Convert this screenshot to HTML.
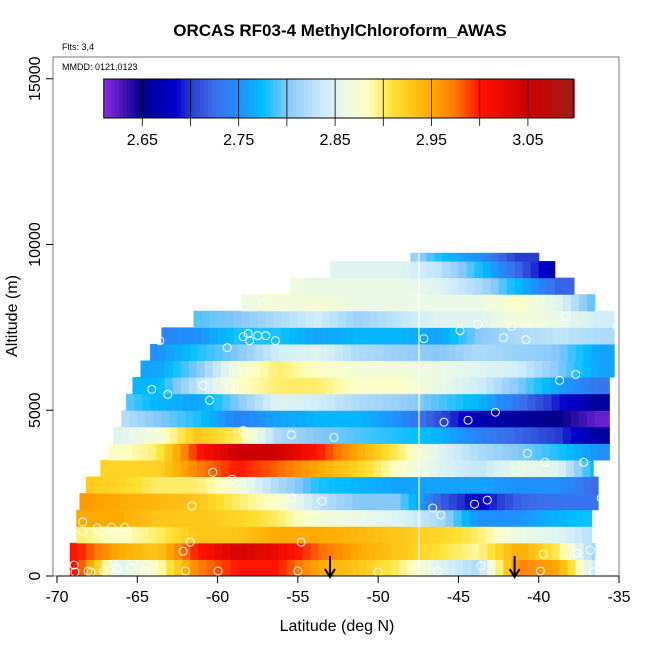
<!DOCTYPE html>
<html><head><meta charset="utf-8"><style>
body{margin:0;background:#fff;}
svg{display:block;font-family:"Liberation Sans",Arial,sans-serif;}
</style></head><body>
<svg id="c" width="650" height="650" viewBox="0 0 650 650">
<text x="340" y="36" text-anchor="middle" font-size="17" font-weight="bold">ORCAS RF03-4 MethylChloroform_AWAS</text>
<text x="62" y="50" font-size="9">Flts: 3,4</text>
<g id="cells"></g>
<line x1="419" y1="252" x2="419" y2="576" stroke="#fff" stroke-width="1.2"/>
<g id="pts"></g>
<g id="arrows"></g>
<rect x="53" y="57" width="566" height="519" fill="none" stroke="#777" stroke-width="1"/>
<text x="62" y="70" font-size="9">MMDD: 0121,0123</text>
<g id="cbar"></g>
<g id="axes"></g>
<text x="337" y="631" text-anchor="middle" font-size="16">Latitude (deg N)</text>
<text transform="translate(17,316) rotate(-90)" text-anchor="middle" font-size="16">Altitude (m)</text>
</svg>
<script>
const latCenters=[-68.75,-66.25,-63.75,-61.25,-58.75,-56.25,-53.75,-51.25,-48.75,-46.25,-43.75,-41.25,-38.75,-36.25];
const altRows=[0,500,1000,1500,2000,2500,3000,3500,4000,4500,5000,5500,6000,6500,7000,7500,8000,8500,9000,9500];
const rowLatMin=[-69.2,-69.2,-68.8,-68.8,-68.6,-68.2,-67.3,-66.8,-66.5,-66.0,-65.7,-65.3,-64.8,-64.2,-63.5,-61.5,-58.5,-55.5,-53.0,-48.0];
const rowLatMax=[-36.5,-36.5,-36.7,-36.7,-36.3,-36.3,-36.6,-35.6,-35.6,-35.6,-35.6,-35.6,-35.3,-35.3,-35.3,-35.3,-36.5,-37.8,-39.0,-40.0];
const values=[
[3.0,2.85,2.88,2.97,3.0,3.0,2.95,2.93,2.9,2.85,2.82,2.97,2.95,2.82],
[3.0,2.95,2.93,3.0,3.04,3.02,2.98,2.95,2.93,2.91,2.89,2.95,2.9,2.8],
[2.9,2.88,2.9,2.93,2.93,2.95,2.95,2.94,2.93,2.92,2.9,2.86,2.85,2.82],
[2.95,2.95,2.93,2.93,2.92,2.9,2.87,2.86,2.85,2.82,2.75,2.75,2.77,2.78],
[2.96,2.95,2.94,2.93,2.9,2.88,2.83,2.8,2.8,2.72,2.68,2.72,2.73,2.73],
[2.93,2.92,2.9,2.9,2.87,2.82,2.78,2.77,2.76,2.76,2.76,2.75,2.75,2.72],
[2.92,2.92,2.92,2.97,3.0,2.98,2.95,2.92,2.88,2.85,2.83,2.86,2.85,2.76],
[2.88,2.88,2.9,3.0,3.05,3.05,3.0,2.95,2.9,2.85,2.82,2.8,2.78,2.75],
[2.85,2.85,2.87,2.93,2.9,2.82,2.8,2.79,2.78,2.77,2.74,2.72,2.7,2.66],
[2.83,2.83,2.8,2.78,2.74,2.76,2.77,2.77,2.75,2.71,2.67,2.66,2.65,2.62],
[2.8,2.8,2.77,2.76,2.8,2.85,2.84,2.82,2.81,2.79,2.77,2.73,2.69,2.66],
[2.77,2.77,2.77,2.83,2.88,2.9,2.9,2.88,2.88,2.86,2.84,2.8,2.76,2.73],
[2.76,2.76,2.76,2.8,2.87,2.9,2.88,2.87,2.87,2.86,2.85,2.84,2.8,2.76],
[2.75,2.75,2.75,2.78,2.8,2.84,2.85,2.82,2.81,2.8,2.82,2.81,2.8,2.76],
[2.74,2.74,2.74,2.75,2.78,2.78,2.76,2.77,2.77,2.76,2.8,2.82,2.83,2.82],
[2.79,2.79,2.79,2.79,2.8,2.82,2.84,2.81,2.83,2.85,2.85,2.87,2.86,2.84],
[2.86,2.86,2.86,2.86,2.86,2.87,2.87,2.86,2.86,2.86,2.86,2.88,2.85,2.78],
[2.87,2.87,2.87,2.87,2.87,2.87,2.86,2.86,2.86,2.85,2.82,2.77,2.72,2.72],
[2.85,2.85,2.85,2.85,2.85,2.85,2.85,2.85,2.85,2.83,2.78,2.72,2.66,2.66],
[2.83,2.83,2.83,2.83,2.83,2.83,2.83,2.83,2.83,2.78,2.75,2.7,2.7,2.7]
];
const ptLat=[-68.94,-68.88,-68.07,-67.88,-67.07,-66.26,-66.26,-65.4,-64.5,-62.0,-62.15,-61.7,-59.97,-55.0,-54.8,-50.0,-46.3,-43.6,-39.7,-39.9,-36.8,-36.6,-68.4,-68.4,-67.5,-66.6,-65.8,-61.6,-55.4,-53.5,-60.3,-59.1,-55.4,-52.75,-60.5,-59.2,-58.4,-64.1,-63.1,-60.9,-59.4,-58.0,-58.4,-58.1,-57.5,-57.0,-56.4,-63.6,-57.2,-50.0,-47.15,-44.9,-43.8,-42.2,-41.7,-35.1,-40.8,-38.3,-38.7,-37.7,-35.25,-42.7,-44.4,-45.9,-40.7,-39.6,-37.2,-36.1,-43.2,-44.0,-46.6,-46.1,-37.6];
const ptAlt=[330,120,150,120,150,240,180,240,150,150,750,1020,150,150,1020,120,150,300,660,150,780,120,1350,1630,1450,1470,1470,2110,2350,2260,3130,2920,4260,4180,5300,5690,4390,5630,5480,5750,6890,7100,7220,7310,7250,7250,7100,7100,8250,9690,7160,7400,7590,7190,7530,7530,7130,7830,5900,6080,4940,4940,4700,4640,3700,3430,3430,2350,2290,2170,2050,1840,690];
const cbTicks=[2.65,2.75,2.85,2.95,3.05];
const cbLines=[2.65,2.70,2.75,2.80,2.85,2.90,2.95,3.00,3.05];
const xTicks=[-70,-65,-60,-55,-50,-45,-40,-35];
const yTicks=[0,5000,10000,15000];
const arrowLat=[-53,-41.5];

const X=l=>57+(l+70)*562/35;
const Y=a=>576-a*0.03315;
const stops=[[2.61,[138,43,226]],[2.65,[0,0,139]],[2.685,[0,0,205]],[2.70,[40,60,210]],[2.725,[60,110,235]],[2.75,[30,144,255]],[2.775,[0,191,255]],[2.80,[135,200,250]],[2.84,[210,238,250]],[2.86,[235,250,230]],[2.885,[255,255,190]],[2.91,[255,225,50]],[2.95,[255,170,0]],[2.975,[255,120,0]],[3.0,[255,20,0]],[3.05,[205,0,0]],[3.1,[160,30,30]]];
function col(v){
  if(v<=stops[0][0])return 'rgb('+stops[0][1]+')';
  for(let i=1;i<stops.length;i++){if(v<=stops[i][0]){const a=stops[i-1],b=stops[i],t=(v-a[0])/(b[0]-a[0]);return 'rgb('+a[1].map((c,k)=>Math.round(c+(b[1][k]-c)*t)).join(',')+')';}}
  return 'rgb('+stops[stops.length-1][1]+')';
}
function interp(row,l){
  if(l<=latCenters[0])return row[0];
  const n=latCenters.length;
  if(l>=latCenters[n-1])return row[n-1];
  for(let i=1;i<n;i++){if(l<=latCenters[i]){const t=(l-latCenters[i-1])/(latCenters[i]-latCenters[i-1]);return row[i-1]+(row[i]-row[i-1])*t;}}
}
const NS='http://www.w3.org/2000/svg';
function mk(t,at,p){const e=document.createElementNS(NS,t);for(const k in at)e.setAttribute(k,at[k]);p.appendChild(e);return e;}
const cells=document.getElementById('cells');
const rowTops=altRows.map((a,i)=>i===altRows.length-1?a+250:a+500);
const STEP=0.5;
altRows.forEach((a,r)=>{
  for(let l0=rowLatMin[r];l0<rowLatMax[r]-1e-6;l0+=STEP){
    const l1=Math.min(l0+STEP,rowLatMax[r]);
    const e=mk('rect',{x:X(l0),y:Y(rowTops[r]),width:X(l1)-X(l0)+0.5,height:Y(a)-Y(rowTops[r])+0.5,fill:col(interp(values[r],(l0+l1)/2))},cells);
    
    
  }
});
const pts=document.getElementById('pts');
ptLat.forEach((l,i)=>{
  const e=mk('circle',{cx:X(l),cy:Y(ptAlt[i]),r:4,fill:'none',stroke:'#fff','stroke-width':1},pts);
  
  
});
const ar=document.getElementById('arrows');
arrowLat.forEach(l=>{
  const x=X(l);
  const g=mk('g',{},ar);
  
  
  mk('line',{x1:x,y1:556,x2:x,y2:576,stroke:'#000','stroke-width':2},g);
  mk('polyline',{points:(x-5)+',569 '+x+',577 '+(x+5)+',569',fill:'none',stroke:'#000','stroke-width':2},g);
});
const cb=document.getElementById('cbar');
const CX=v=>142.3+(v-2.65)*964;
const cb0=2.61,cb1=3.097;
for(let v=cb0;v<cb1;v+=0.004){
  const e=mk('rect',{x:CX(v),y:79,width:0.004*964+0.6,height:39,fill:col(v+0.002)},cb);
  
  
}
mk('rect',{x:CX(cb0),y:79,width:CX(cb1)-CX(cb0),height:39,fill:'none',stroke:'#000','stroke-width':1},cb);
cbLines.forEach(v=>{mk('line',{x1:CX(v),y1:79,x2:CX(v),y2:126,stroke:'#000','stroke-width':0.8},cb);});
cbTicks.forEach(v=>{
  const t=mk('text',{x:CX(v),y:145,'text-anchor':'middle','font-size':16},cb);
  t.textContent=v.toFixed(2);
  
  
});
const ax=document.getElementById('axes');
mk('line',{x1:X(-70),y1:576,x2:X(-35),y2:576,stroke:'#000'},ax);
xTicks.forEach(v=>{
  mk('line',{x1:X(v),y1:576,x2:X(v),y2:583,stroke:'#000'},ax);
  const t=mk('text',{x:X(v),y:602,'text-anchor':'middle','font-size':16},ax);
  t.textContent=v;
  
  
});
yTicks.forEach(v=>{
  mk('line',{x1:46,y1:Y(v),x2:53,y2:Y(v),stroke:'#000'},ax);
  const t=mk('text',{x:0,y:0,'text-anchor':'middle','font-size':16,transform:'translate(40,'+Y(v)+') rotate(-90)'},ax);
  t.textContent=v;
  
  
});
</script>
</body></html>
